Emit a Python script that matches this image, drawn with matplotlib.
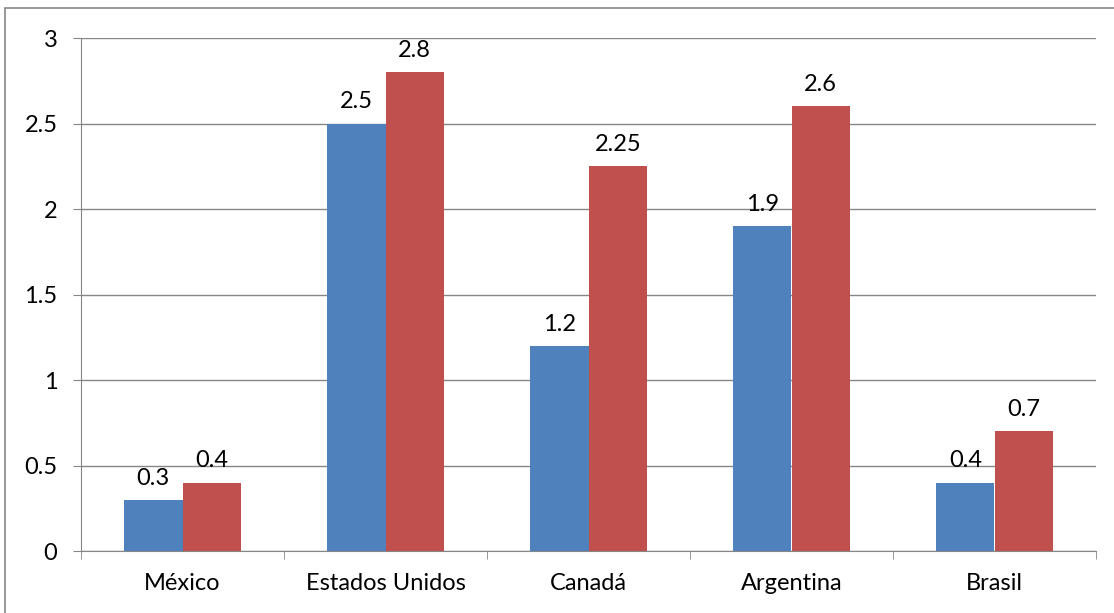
import numpy as np
import matplotlib
matplotlib.use("Agg")
import matplotlib.pyplot as plt
from matplotlib.patches import Rectangle

paises = ["México", "Estados Unidos", "Canadá", "Argentina", "Brasil"]
serie1 = [0.3, 2.5, 1.2, 1.9, 0.4]
serie2 = [0.4, 2.8, 2.25, 2.6, 0.7]
etiq1 = ["0.3", "2.5", "1.2", "1.9", "0.4"]
etiq2 = ["0.4", "2.8", "2.25", "2.6", "0.7"]

plt.rcParams['font.family'] = ['Lato', 'DejaVu Sans']
fs = 17

fig = plt.figure(figsize=(11.14, 6.13), dpi=100)
ax = fig.add_axes([81/1114, 1-551/613, (1096-81)/1114, (551-38)/613])

x = np.arange(len(paises))
w = 0.288
b1 = ax.bar(x - w/2, serie1, w, color='#4F81BD', zorder=3)
b2 = ax.bar(x + w/2, serie2, w, color='#C0504D', zorder=3)

for rect, t in zip(b1, etiq1):
    ax.annotate(t, (rect.get_x() + rect.get_width()/2, rect.get_height()),
                xytext=(0, 8), textcoords='offset points', ha='center', va='bottom', fontsize=fs)
for rect, t in zip(b2, etiq2):
    ax.annotate(t, (rect.get_x() + rect.get_width()/2, rect.get_height()),
                xytext=(0, 8), textcoords='offset points', ha='center', va='bottom', fontsize=fs)

ax.set_xlim(-0.5, len(paises) - 0.5)
ax.set_ylim(0, 3)
ax.set_yticks([0, 0.5, 1, 1.5, 2, 2.5, 3])
ax.set_yticklabels(["0", "0.5", "1", "1.5", "2", "2.5", "3"])
ax.yaxis.grid(True, color='#868686', linewidth=1, zorder=0)

ax.set_xticks(x)
ax.set_xticklabels(paises)
ax.set_xticks(np.arange(len(paises) + 1) - 0.5, minor=True)
ax.tick_params(axis='x', which='major', length=0, pad=16, labelsize=fs)
ax.tick_params(axis='x', which='minor', length=6, color='#868686', direction='out')
ax.tick_params(axis='y', length=6, color='#868686', pad=11, labelsize=fs)

for s in ['top', 'right']:
    ax.spines[s].set_visible(False)
ax.spines['left'].set_color('#868686')
ax.spines['bottom'].set_color('#868686')

fig.patches.append(Rectangle((5/1114, -0.1), 1.2, 1.1 - 8/613, transform=fig.transFigure,
                             fill=False, edgecolor='#868686', linewidth=1.2))

fig.savefig("out.png", dpi=100)
